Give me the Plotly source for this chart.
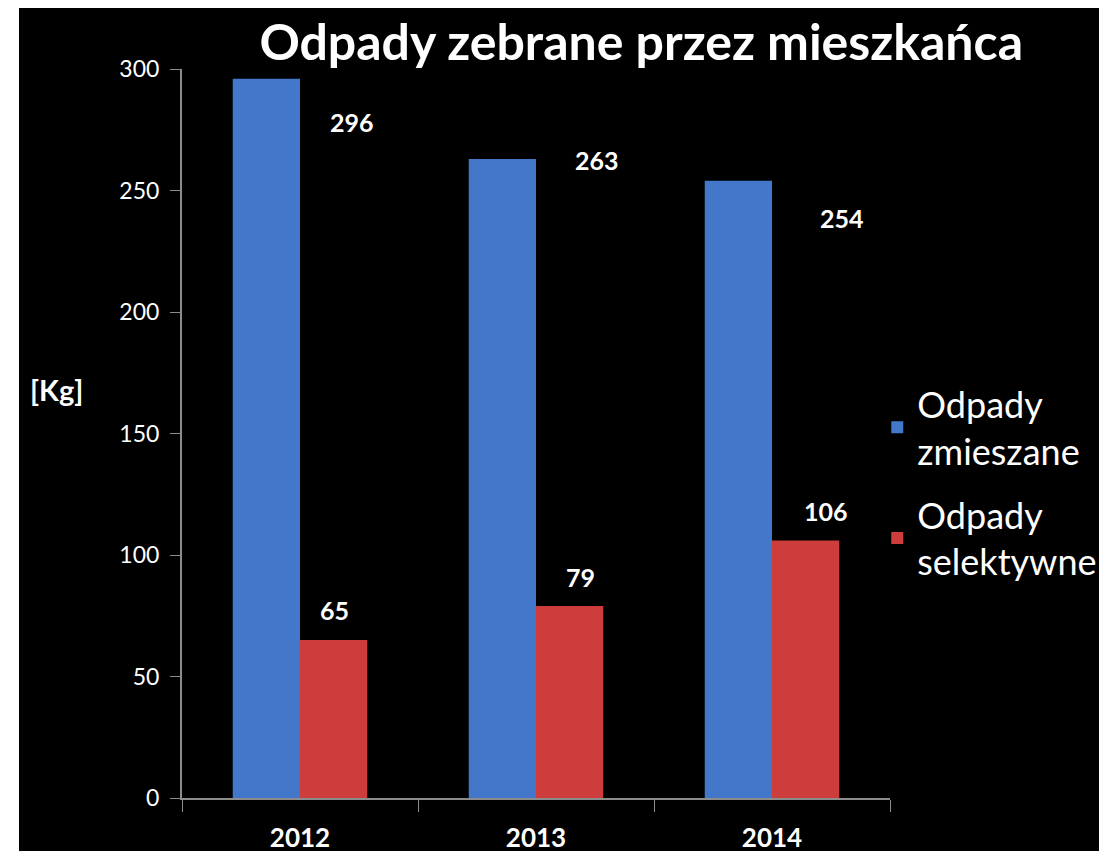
import plotly.graph_objects as go

years = ['2012', '2013', '2014']
zmieszane = [296, 263, 254]
selektywne = [65, 79, 106]
yticks = [0, 50, 100, 150, 200, 250, 300]

FONT = 'Lato'
BLUE = '#4277c9'
RED = '#cd3d3c'

fig = go.Figure()
fig.add_trace(go.Bar(x=years, y=zmieszane, name='Odpady<br>zmieszane', legendgroup='a',
                     marker=dict(color=BLUE, line=dict(width=0))))
fig.add_trace(go.Bar(x=years, y=selektywne, name='Odpady<br>selektywne', legendgroup='b',
                     marker=dict(color=RED, line=dict(width=0))))

# value labels, placed like in the original slide (x given as category index)
blue_dx = [52, 61, 70]
blue_dy = [-43, -1, -37]
red_dx = [34, 44, 54]
red_dy = [30, 29, 29]
for i in range(len(years)):
    fig.add_annotation(x=i, y=zmieszane[i], text=f'<b>{zmieszane[i]}</b>', showarrow=False,
                       xshift=blue_dx[i], yshift=blue_dy[i],
                       font=dict(family=FONT, size=25, color='white'))
    fig.add_annotation(x=i, y=selektywne[i], text=f'<b>{selektywne[i]}</b>', showarrow=False,
                       xshift=red_dx[i], yshift=red_dy[i],
                       font=dict(family=FONT, size=25, color='white'))

fig.add_annotation(xref='paper', x=0, xanchor='right', xshift=-97, y=168, yref='y',
                   text='<b>[Kg]</b>', showarrow=False,
                   font=dict(family=FONT, size=29, color='white'))

# white strip on the left of the slide picture
fig.add_shape(type='rect', xref='paper', yref='paper', xsizemode='pixel', xanchor=0,
              x0=-180, x1=-163, y0=-0.2, y1=1.2, fillcolor='white', line=dict(width=0), layer='above')

fig.update_layout(
    width=1107, height=851,
    margin=dict(l=174, r=225, t=61, b=61, autoexpand=False),
    paper_bgcolor='black', plot_bgcolor='black',
    barmode='group', bargap=0.43, bargroupgap=0,
    title=dict(text='<b>Odpady zebrane przez mieszkańca</b>', xref='container', yref='container',
               x=0.572, xanchor='center', y=0.960, yanchor='middle',
               font=dict(family=FONT, size=50, color='white')),
    legend=dict(x=0.982, xanchor='left', y=0.432, yanchor='middle',
                font=dict(family=FONT, size=36, color='white'), traceorder='grouped',
                bgcolor='rgba(0,0,0,0)', tracegroupgap=14, itemsizing='constant'),
    showlegend=True,
)
fig.update_xaxes(type='category', range=[-0.5, 2.5], showgrid=False, showline=True,
                 linecolor='#8c8c8c', linewidth=2,
                 ticks='outside', tickson='boundaries', ticklen=12, tickcolor='#8c8c8c', tickwidth=1,
                 ticklabelstandoff=16,
                 tickfont=dict(family=FONT, size=26, color='white'), tickangle=0,
                 tickvals=years, ticktext=[f'<b>{y}</b>' for y in years])
fig.update_yaxes(range=[0, 300], tickvals=yticks, showgrid=False, zeroline=False,
                 showline=True, linecolor='#8c8c8c', linewidth=2,
                 ticks='outside', ticklen=10, tickcolor='#8c8c8c', tickwidth=1,
                 ticklabelstandoff=6,
                 tickfont=dict(family=FONT, size=23, color='white'))

fig.write_html('out.html')
